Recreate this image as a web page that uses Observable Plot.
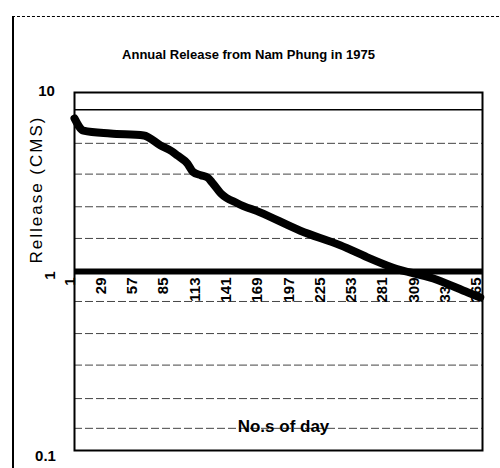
<!DOCTYPE html>
<html><head><meta charset="utf-8">
<script src="https://cdn.jsdelivr.net/npm/d3@7"></script>
<script src="https://cdn.jsdelivr.net/npm/@observablehq/plot@0.6"></script>
<style>
html,body{margin:0;padding:0;background:#fff;}
#wrap{position:relative;width:500px;height:468px;overflow:hidden;}
#border{position:absolute;left:12px;top:16px;width:500px;height:470px;border-top:1px dashed #000;border-left:2px solid #000;}
#wrap svg{position:absolute;left:0;top:0;}
</style></head><body><div id="wrap"><div id="border"></div></div>
<script>
const days    = [1, 9, 33, 63, 78, 88, 93, 102, 107, 114, 120, 124, 132, 147, 167, 203, 239, 263, 286, 322, 353, 364];
const release = [7.16, 6.13, 5.9, 5.75, 5.06, 4.7, 4.45, 4.01, 3.6, 3.45, 3.35, 3.15, 2.73, 2.4, 2.14, 1.69, 1.4, 1.2, 1.05, 0.914, 0.763, 0.716];
const xTicks = [1, 29, 57, 85, 113, 141, 169, 197, 225, 253, 281, 309, 337, 365];
const yTickValues = [10, 1, 0.1];
const yTickLabels = ["10", "1", "0.1"];
const gridValues = [8, 5.2, 3.5, 2.3, 1.53, 0.68, 0.45, 0.3, 0.195, 0.133];
const title = "Annual Release from Nam Phung in 1975";
const yTitle = "Rellease (CMS)";
const xTitle = "No.s of day";

const data = days.map((d, i) => ({day: d, q: release[i]}));

const chart = Plot.plot({
  width: 500, height: 468,
  marginTop: 92, marginBottom: 18, marginLeft: 74, marginRight: 18,
  style: {fontFamily: "'Liberation Sans', Arial, sans-serif", background: "transparent", color: "#000"},
  x: {domain: [1, 366], axis: null},
  y: {type: "log", domain: [0.1, 10], axis: null},
  marks: [
    Plot.ruleY(gridValues.slice(1), {stroke: "#444", strokeWidth: 1, strokeDasharray: "8,3"}),
    Plot.ruleY(gridValues.slice(0, 1), {stroke: "#000", strokeWidth: 1.5}),
    Plot.ruleY([1], {stroke: "#000", strokeWidth: 6}),
    Plot.frame({stroke: "#000", strokeWidth: 2}),
    Plot.line(data, {x: "day", y: "q", stroke: "#000", strokeWidth: 8, curve: "monotone-x", strokeLinecap: "round", strokeLinejoin: "round"}),
    Plot.text(xTicks, {x: d => d, y: () => 1, text: d => String(d), rotate: -90, textAnchor: "end", lineAnchor: "bottom", dy: 6, fontSize: 15, fontWeight: "bold", fill: "#000"}),
    Plot.text([yTickValues[0]], {y: d => d, frameAnchor: "left", text: () => yTickLabels[0], dx: -28, dy: -1, textAnchor: "middle", fontSize: 15, fontWeight: "bold", fill: "#000"}),
    Plot.text([yTickValues[1]], {y: d => d, frameAnchor: "left", text: () => yTickLabels[1], dx: -24, dy: 4, rotate: -90, textAnchor: "middle", fontSize: 15, fontWeight: "bold", fill: "#000"}),
    Plot.text([yTickValues[2]], {y: d => d, frameAnchor: "left", text: () => yTickLabels[2], dx: -29, dy: 6, textAnchor: "middle", fontSize: 15, fontWeight: "bold", fill: "#000"}),
    Plot.text([title], {frameAnchor: "top", text: d => d, dx: -30, dy: -43, fontSize: 13, fontWeight: "bold", fill: "#000"}),
    Plot.text([yTitle], {frameAnchor: "left", text: d => d, rotate: -90, dx: -38, dy: -8, fontSize: 17, fill: "#000"}),
    Plot.text([xTitle], {frameAnchor: "bottom", text: d => d, dx: 5, dy: -19, fontSize: 17, fontWeight: "bold", fill: "#000"})
  ]
});
document.getElementById("wrap").appendChild(chart);
chart.querySelectorAll("text").forEach(t => { if (t.textContent === yTitle) t.setAttribute("letter-spacing", "2"); });
</script>
</body></html>
